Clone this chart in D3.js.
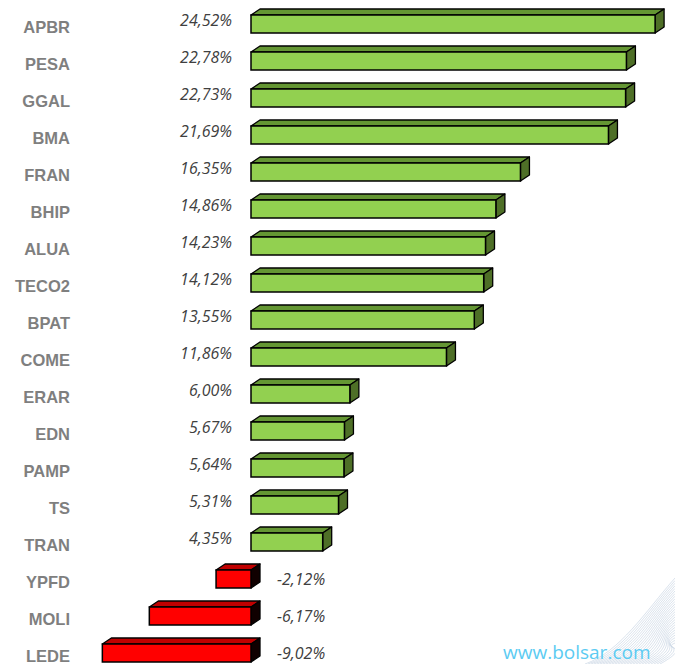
<!DOCTYPE html>
<html>
<head>
<meta charset="utf-8">
<script src="https://cdn.jsdelivr.net/npm/d3@7"></script>
<style>
  html, body { margin: 0; padding: 0; background: #fff; }
  svg { display: block; }
</style>
</head>
<body>
<svg id="chart" width="675" height="664"></svg>
<script>
// tickers and daily change (%)
const tickers = ["APBR", "PESA", "GGAL", "BMA", "FRAN", "BHIP", "ALUA", "TECO2", "BPAT",
                 "COME", "ERAR", "EDN", "PAMP", "TS", "TRAN", "YPFD", "MOLI", "LEDE"];
const changes = [24.52, 22.78, 22.73, 21.69, 16.35, 14.86, 14.23, 14.12, 13.55,
                 11.86, 6.00, 5.67, 5.64, 5.31, 4.35, -2.12, -6.17, -9.02];

const data = tickers.map((t, i) => ({ ticker: t, value: changes[i] }));

const svg = d3.select("#chart");
const depth = { dx: 9, dy: 6 };
const barH = 18;

const x = d3.scaleLinear().domain([0, 25]).range([251, 663]);
const y = d3.scaleBand().domain(tickers).range([15, 15 + 37 * tickers.length]).paddingInner(0).paddingOuter(0);

const colors = {
    pos: { front: "#92d050", top: "#649633", side: "#4e6f27" },
    neg: { front: "#ff0000", top: "#c00000", side: "#100000" }
};

// decorative wave lines in bottom-right corner
const deco = svg.append("g").attr("fill", "none").attr("stroke", "#9fb4cf").attr("stroke-width", 0.5).attr("opacity", 0.75);
for (let k = 0; k < 26; k++) {
    const sx = 585 + k * 3;
    const ey = 578 + k * 2.6;
    deco.append("path")
        .attr("d", `M${sx},664 C${sx + 35},${652 - k * 0.3} ${645 + k * 0.6},${612 + k * 1.5} 675,${ey}`);
}

const rows = svg.append("g").selectAll("g.row")
    .data(data)
    .join("g")
    .attr("class", "row");

function face(pts) { return "M" + pts.map(p => p.join(",")).join("L") + "Z"; }

rows.each(function (d) {
    const g = d3.select(this);
    const top = y(d.ticker);
    const x0 = d.value >= 0 ? x(0) : x(d.value);
    const x1 = d.value >= 0 ? x(d.value) : x(0);
    const c = d.value >= 0 ? colors.pos : colors.neg;
    const { dx, dy } = depth;

    // top face
    g.append("path")
        .attr("d", face([[x0, top], [x0 + dx, top - dy], [x1 + dx, top - dy], [x1, top]]))
        .attr("fill", c.top).attr("stroke", "#000").attr("stroke-width", 1.3).attr("stroke-linejoin", "round");
    // side face
    g.append("path")
        .attr("d", face([[x1, top], [x1 + dx, top - dy], [x1 + dx, top + barH - dy], [x1, top + barH]]))
        .attr("fill", c.side).attr("stroke", "#000").attr("stroke-width", 1.3).attr("stroke-linejoin", "round");
    // front face
    g.append("rect")
        .attr("x", x0).attr("y", top)
        .attr("width", x1 - x0).attr("height", barH)
        .attr("fill", c.front).attr("stroke", "#000").attr("stroke-width", 1.5);
});

// ticker labels
rows.append("text")
    .attr("x", 70)
    .attr("y", d => y(d.ticker) + 18)
    .attr("text-anchor", "end")
    .attr("font-family", "'Liberation Sans', Arial, sans-serif")
    .attr("font-weight", "bold")
    .attr("font-size", 16.5)
    .attr("fill", "#7f7f7f")
    .text(d => d.ticker);

// value labels
const fmt = v => d3.format(".2f")(v).replace("−", "-").replace(".", ",") + "%";
rows.append("text")
    .attr("x", d => d.value >= 0 ? x(0) - 19 : x(0) + 26)
    .attr("y", d => d.value >= 0 ? y(d.ticker) + 11 : y(d.ticker) + 15)
    .attr("text-anchor", d => d.value >= 0 ? "end" : "start")
    .attr("font-family", "'Open Sans', sans-serif")
    .attr("font-style", "italic")
    .attr("font-weight", 400)
    .attr("font-size", 16)
    .attr("fill", "#404040")
    .text(d => fmt(d.value));

// watermark
svg.append("text")
    .attr("x", 503).attr("y", 659)
    .attr("font-family", "'Open Sans', sans-serif")
    .attr("font-size", 19)
    .attr("fill", "#5ccbf2")
    .text("www.bolsar.com");
</script>
</body>
</html>
